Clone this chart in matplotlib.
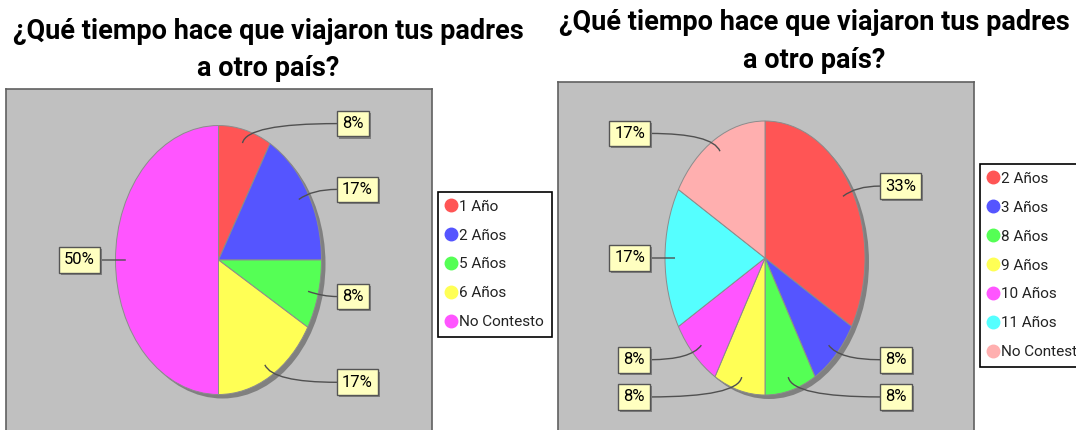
import numpy as np
import matplotlib.pyplot as plt
from matplotlib.patches import Ellipse, PathPatch
from matplotlib.path import Path
from matplotlib.lines import Line2D
import matplotlib.patheffects as pe

titulo = "¿Qué tiempo hace que viajaron tus padres\na otro país?"

# respuestas (12 encuestados en cada grupo)
cat_izq = ["1 Año", "2 Años", "5 Años", "6 Años", "No Contesto"]
val_izq = [1, 2, 1, 2, 6]
col_izq = ["#FF5555", "#5555FF", "#55FF55", "#FFFF55", "#FF55FF"]

cat_der = ["2 Años", "3 Años", "8 Años", "9 Años", "10 Años", "11 Años", "No Contesto"]
val_der = [4, 1, 1, 1, 1, 2, 2]
col_der = ["#FF5555", "#5555FF", "#55FF55", "#FFFF55", "#FF55FF", "#55FFFF", "#FFAFAF"]

W, H = 1076, 430
fuente = ['Roboto', 'DejaVu Sans']

fig = plt.figure(figsize=(W / 100, H / 100), dpi=100)
fig.patch.set_facecolor('white')


def panel(caja, centro, radios, valores, categorias, colores, pos_titulo, pos_leyenda):
    x0, y0, x1, y1 = caja
    cx, cy = centro
    rx, ry = radios
    ax = fig.add_axes([x0 / W, 1 - y1 / H, (x1 - x0) / W, (y1 - y0) / H])
    ax.set_facecolor('#C0C0C0')

    ax.add_patch(Ellipse((4 / rx, -4 / ry), 2, 2, facecolor='#808080',
                         edgecolor='none', zorder=1))
    wedges, _ = ax.pie(valores, colors=colores, startangle=90, counterclock=False,
                       frame=True,
                       wedgeprops=dict(edgecolor='#8c8c8c', linewidth=0.7, zorder=2))
    ax.set_aspect('auto')
    ax.set_xlim((x0 - cx) / rx, (x1 - cx) / rx)
    ax.set_ylim((cy - y1) / ry, (cy - y0) / ry)
    ax.set_xticks([])
    ax.set_yticks([])
    for s in ax.spines.values():
        s.set_color('#606060')
        s.set_linewidth(1.2)

    total = sum(valores)
    for w, v in zip(wedges, valores):
        th = np.deg2rad((w.theta1 + w.theta2) / 2)
        c, s = np.cos(th), np.sin(th)
        lado = 1 if c >= 0 else -1
        ly = 1.05 * s
        verts = [(lado * 1.15, ly), (1.05 * c, ly), (0.9 * c, 0.9 * s)]
        ax.add_patch(PathPatch(Path(verts, [Path.MOVETO, Path.CURVE3, Path.CURVE3]),
                               facecolor='none', edgecolor='#505050', lw=1, zorder=4))
        t = ax.text(lado * (1.15 + 5 / rx), ly, f"{round(100 * v / total)}%",
                    ha='left' if lado > 0 else 'right', va='center',
                    fontsize=12, family=fuente, color='black', zorder=5,
                    bbox=dict(boxstyle='square,pad=0.32', facecolor='#FFFFC0',
                              edgecolor='#555555', linewidth=1))
        t.get_bbox_patch().set_path_effects([
            pe.SimplePatchShadow(offset=(1.5, -1.5), shadow_rgbFace='#808080', alpha=1),
            pe.Normal()])

    fig.text(pos_titulo[0] / W, 1 - pos_titulo[1] / H, titulo, ha='center', va='top',
             fontsize=19.5, fontweight='bold', family=fuente, linespacing=1.5)

    manejadores = [Line2D([], [], ls='none', marker='o', ms=9, mfc=col, mec=col)
                   for col in colores]
    leg = fig.legend(manejadores, categorias, loc='center left',
                     bbox_to_anchor=(pos_leyenda[0] / W, 1 - pos_leyenda[1] / H),
                     bbox_transform=fig.transFigure, frameon=True, fancybox=False,
                     edgecolor='black', framealpha=1, labelspacing=0.98,
                     handlelength=0.7, handletextpad=0.2, borderpad=0.5,
                     borderaxespad=0, prop={'family': fuente, 'size': 11})
    leg.get_frame().set_linewidth(1.2)
    for txt in leg.get_texts():
        txt.set_color('#222222')


panel((6, 89, 432, 433), (218.5, 260), (103, 134.5), val_izq, cat_izq, col_izq,
      (268, 18), (438, 264.5))
panel((558, 82, 974, 433), (765, 258), (100, 137), val_der, cat_der, col_der,
      (814, 9), (980, 265.5))

fig.savefig('out.png', dpi=100)
